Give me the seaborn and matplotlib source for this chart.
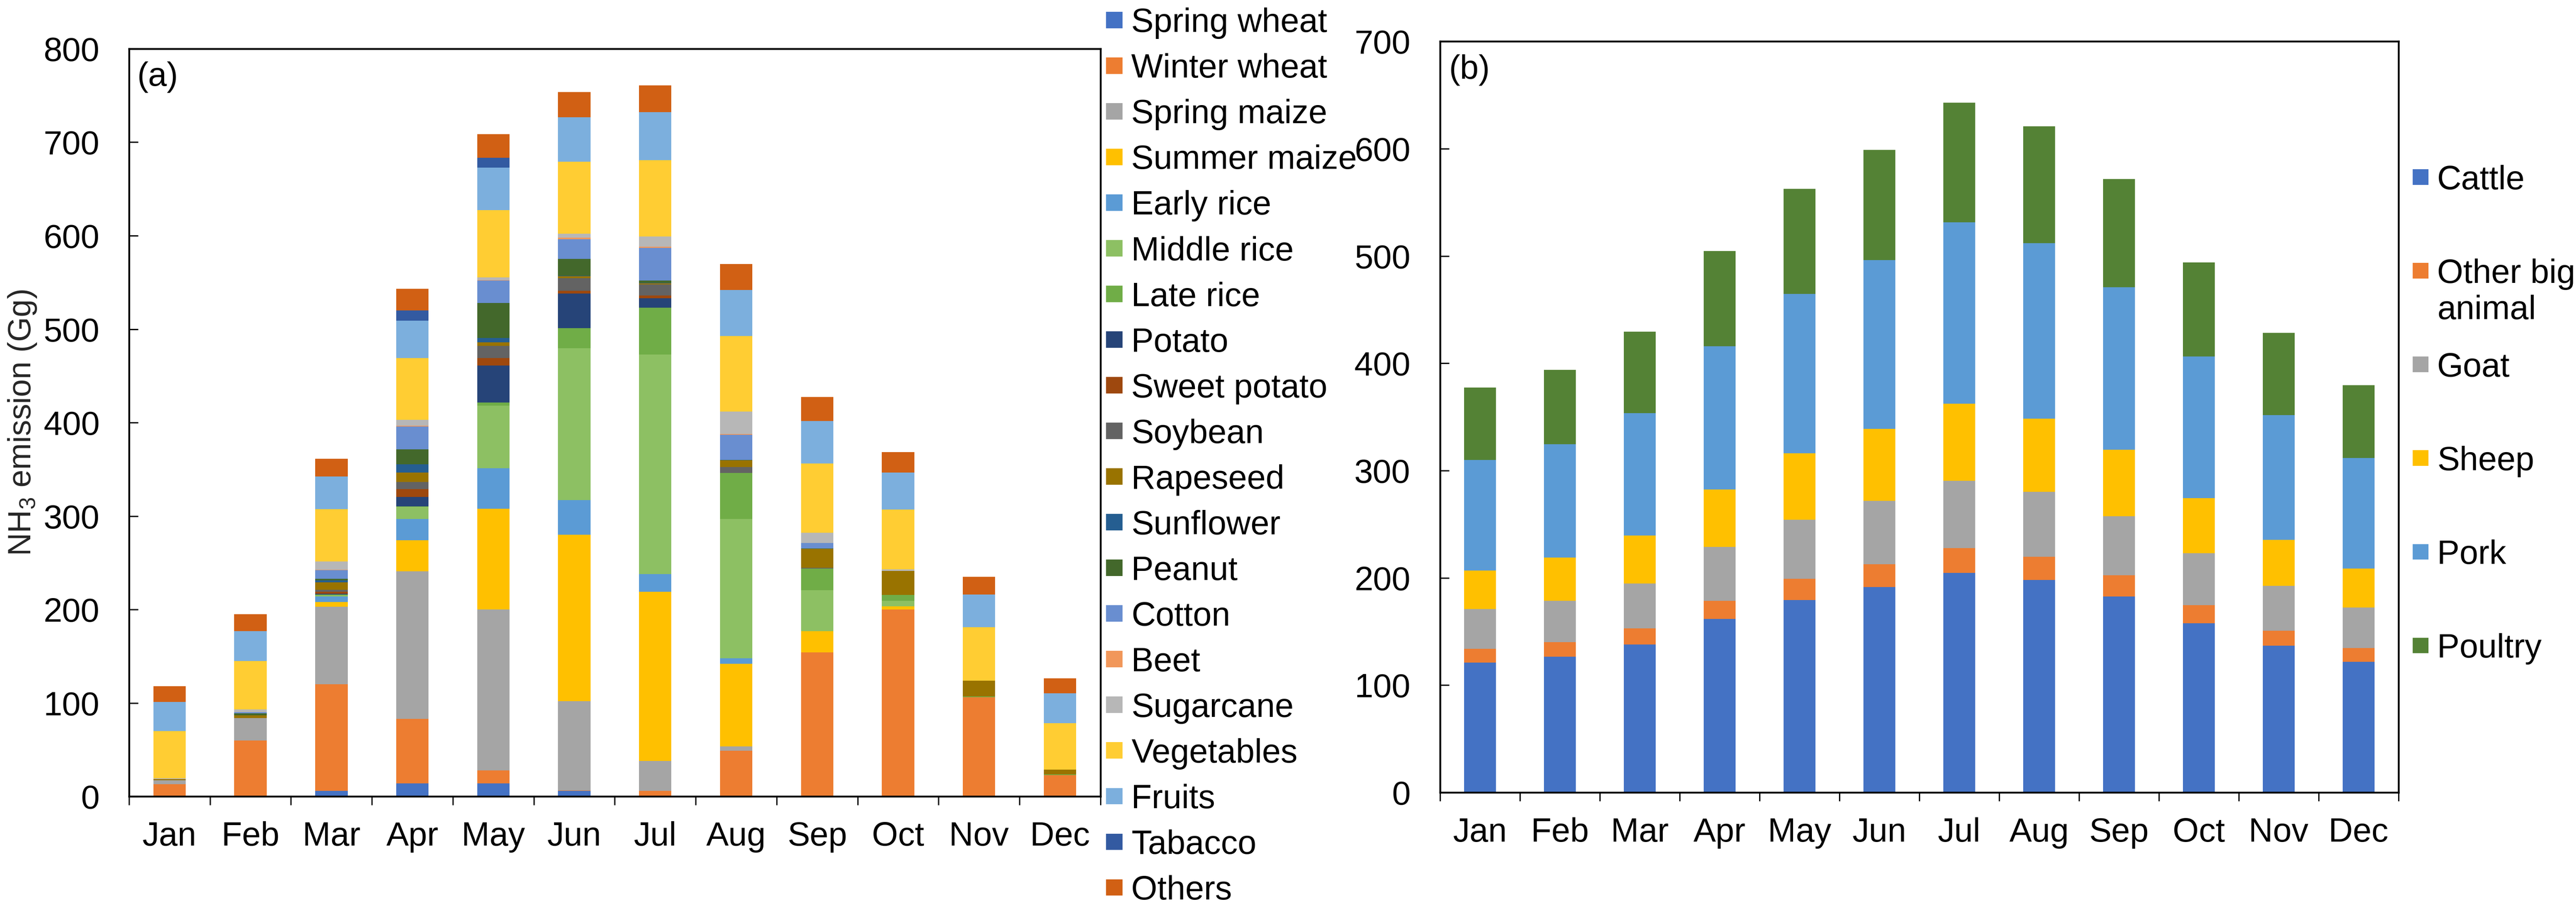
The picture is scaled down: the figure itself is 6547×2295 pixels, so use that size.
import numpy as np
import pandas as pd
import matplotlib
matplotlib.use('Agg')
import matplotlib.pyplot as plt
from matplotlib.patches import Patch
import seaborn as sns

# Monthly NH3 emission (Gg)
months = ['Jan', 'Feb', 'Mar', 'Apr', 'May', 'Jun', 'Jul', 'Aug', 'Sep', 'Oct', 'Nov', 'Dec']

# (a) crops / fertilizer sources
crop_names = ['Spring wheat', 'Winter wheat', 'Spring maize', 'Summer maize', 'Early rice',
              'Middle rice', 'Late rice', 'Potato', 'Sweet potato', 'Soybean', 'Rapeseed',
              'Sunflower', 'Peanut', 'Cotton', 'Beet', 'Sugarcane', 'Vegetables', 'Fruits',
              'Tabacco', 'Others']
spring_wheat = [0, 0.5, 6, 14, 14, 6, 0, 0, 0, 0, 0, 0]
winter_wheat = [13, 59.5, 114, 69, 14, 0.5, 6, 49, 154, 200, 106, 23]
spring_maize = [4.5, 24, 83, 158, 172, 95.5, 32, 4.6, 0, 0, 0, 0]
summer_maize = [0, 0, 5, 33, 108, 178, 181, 88.4, 23, 3.5, 0, 0]
early_rice = [0, 0, 6, 23, 43, 37, 19, 6, 0, 0, 0, 0]
middle_rice = [0, 0, 1, 13, 67, 162.5, 235, 149, 43.6, 6, 0, 0]
late_rice = [0, 0, 1, 0.5, 3.6, 21.5, 50, 49, 23.4, 6, 1, 0.5]
potato = [0, 0, 1, 10, 39.4, 37, 10, 0, 0, 0, 0, 0]
sweet_potato = [0, 0, 2, 8.5, 8, 3, 3, 0, 0, 0, 0, 0]
soybean = [0, 0, 2, 7.5, 13, 13.7, 12, 6.5, 0.5, 0, 0, 0]
rapeseed = [1, 3, 8, 10, 4, 1.8, 1, 7, 20.5, 26, 17, 5]
sunflower = [0, 0, 2, 9, 4.6, 0.5, 0.5, 0, 0, 0, 0, 0]
peanut = [0, 2, 2, 16, 37.4, 18, 2.5, 0.5, 0.5, 0, 0, 0]
cotton = [0, 1, 9, 24.5, 24, 21, 35, 27, 5.6, 0, 0, 0]
beet = [0, 0, 0.5, 0.5, 0.5, 2, 1, 1, 0, 0, 0, 0]
sugarcane = [0.8, 3, 9, 6.5, 3, 4, 11, 24, 11, 1.5, 0, 0]
vegetables = [50.5, 52, 56, 66, 72, 77, 82, 80.5, 74, 64, 57, 50]
fruits = [31.5, 32, 35, 40, 45.4, 47.6, 51, 49.3, 45.4, 39.5, 35, 32]
tabacco = [0, 0, 0, 11, 10.6, 0, 0, 0, 0, 0, 0, 0]
others = [16.5, 18, 19, 23, 25, 27, 29, 27.7, 26, 22, 19, 16]

crop_colors = ['#4472C4', '#ED7D31', '#A5A5A5', '#FFC000', '#5B9BD5', '#8DC063', '#70AD47',
               '#264478', '#9E480E', '#636363', '#997300', '#255E91', '#43682B', '#698ED0',
               '#F1975A', '#B7B7B7', '#FFCD33', '#7CAFDD', '#335AA1', '#D16014']

# (b) livestock
animal_names = ['Cattle', 'Other big animal', 'Goat', 'Sheep', 'Pork', 'Poultry']
cattle = [121, 126.7, 138, 161.6, 179.3, 191.6, 204.5, 198, 182.5, 157.8, 136.9, 121.8]
other_big = [13, 13.3, 15, 17.1, 19.7, 21, 23.1, 21.5, 19.9, 16.7, 13.9, 12.9]
goat = [37, 38.7, 41.8, 50, 55, 59, 62.8, 60.5, 55.2, 48.3, 41.9, 37.6]
sheep = [36, 40.3, 44.6, 53.6, 62, 67.1, 71.9, 68.4, 61.8, 51.5, 42.9, 36.5]
pork = [103, 105.7, 114.3, 133.7, 148.8, 157.3, 169.1, 163.6, 151.3, 132, 116, 103.1]
poultry = [67.5, 69.3, 75.7, 88.6, 97.7, 103, 111.6, 109, 101, 87.5, 76.7, 67.6]
animal_colors = ['#4472C4', '#ED7D31', '#A5A5A5', '#FFC000', '#5B9BD5', '#548235']

crop_series = [spring_wheat, winter_wheat, spring_maize, summer_maize, early_rice, middle_rice,
               late_rice, potato, sweet_potato, soybean, rapeseed, sunflower, peanut, cotton,
               beet, sugarcane, vegetables, fruits, tabacco, others]
animal_series = [cattle, other_big, goat, sheep, pork, poultry]

sns.set_style('ticks')
plt.rcParams['font.family'] = ['Liberation Sans', 'DejaVu Sans']
plt.rcParams['mathtext.default'] = 'regular'
plt.rcParams['axes.linewidth'] = 1.1
plt.rcParams['axes.edgecolor'] = 'black'
plt.rcParams['xtick.color'] = 'black'
plt.rcParams['ytick.color'] = 'black'
plt.rcParams['text.color'] = 'black'

FS = 20.5
DPI = 300
W, H = 6547, 2295

fig = plt.figure(figsize=(W / DPI, H / DPI), dpi=DPI)
ax_a = fig.add_axes([0.0501, 0.118, 0.3771, 0.828])
ax_b = fig.add_axes([0.559, 0.1224, 0.3721, 0.8318])


def stacked_bars(ax, names, series, colors):
    bottom = np.zeros(len(months))
    for name, vals, col in zip(names, series, colors):
        df = pd.DataFrame({'month': months, 'value': vals})
        sns.barplot(data=df, x='month', y='value', order=months, color=col, width=0.4,
                    errorbar=None, saturation=1, linewidth=0, bottom=bottom.copy(), ax=ax)
        bottom += np.array(vals, dtype=float)


def style_axis(ax, ymax):
    ax.set_xlabel('')
    ax.set_ylabel('')
    ax.set_xlim(-0.5, len(months) - 0.5)
    ax.set_ylim(0, ymax)
    ax.set_yticks(np.arange(0, ymax + 1, 100))
    ax.set_xticks(np.arange(len(months)))
    ax.set_xticklabels(months)
    ax.set_xticks(np.arange(-0.5, len(months), 1), minor=True)
    ax.tick_params(axis='x', which='major', length=0, pad=15, labelsize=FS)
    ax.tick_params(axis='x', which='minor', length=5.3, width=0.8, direction='out')
    ax.tick_params(axis='y', which='major', length=5.5, width=0.8, direction='in',
                   pad=18, labelsize=FS)
    for s in ax.spines.values():
        s.set_visible(True)
        s.set_linewidth(1.1)
        s.set_color('black')


stacked_bars(ax_a, crop_names, crop_series, crop_colors)
stacked_bars(ax_b, animal_names, animal_series, animal_colors)
style_axis(ax_a, 800)
style_axis(ax_b, 700)

ax_a.set_ylabel('NH$_3$ emission (Gg)', fontsize=19.5)
ax_a.yaxis.set_label_coords(-0.0936, 0.5)

ax_a.text(0.0085, 0.962, '(a)', transform=ax_a.transAxes, fontsize=FS, va='center', ha='left')
ax_b.text(0.0094, 0.962, '(b)', transform=ax_b.transAxes, fontsize=FS, va='center', ha='left')

handles_a = [Patch(facecolor=c, edgecolor='none', label=n) for n, c in zip(crop_names, crop_colors)]
fig.legend(handles=handles_a, loc='upper left', bbox_to_anchor=(0.4294, 0.9916),
           bbox_transform=fig.transFigure, frameon=False, fontsize=FS,
           handlelength=0.49, handleheight=0.377, handletextpad=0.26,
           labelspacing=0.422, borderpad=0, borderaxespad=0)

labels_b = ['Other big' if n == 'Other big animal' else n for n in animal_names]
handles_b = [Patch(facecolor=c, edgecolor='none', label=n) for n, c in zip(labels_b, animal_colors)]
leg_b = fig.legend(handles=handles_b, loc='upper left', bbox_to_anchor=(0.9366, 0.8174),
                   bbox_transform=fig.transFigure, frameon=False, fontsize=FS,
                   handlelength=0.468, handleheight=0.343, handletextpad=0.26,
                   labelspacing=1.85, borderpad=0, borderaxespad=0)

# second line of the "Other big animal" entry, placed under the first line
fig.canvas.draw()
bb = leg_b.get_texts()[1].get_window_extent(fig.canvas.get_renderer())
line_gap = 1.08 * FS * DPI / 72
descent = 0.21 * FS * DPI / 72
fig.text(bb.x0 / W, (bb.y0 + descent - line_gap) / H, 'animal', fontsize=FS,
         ha='left', va='baseline')

fig.savefig('out.png', dpi=DPI)
